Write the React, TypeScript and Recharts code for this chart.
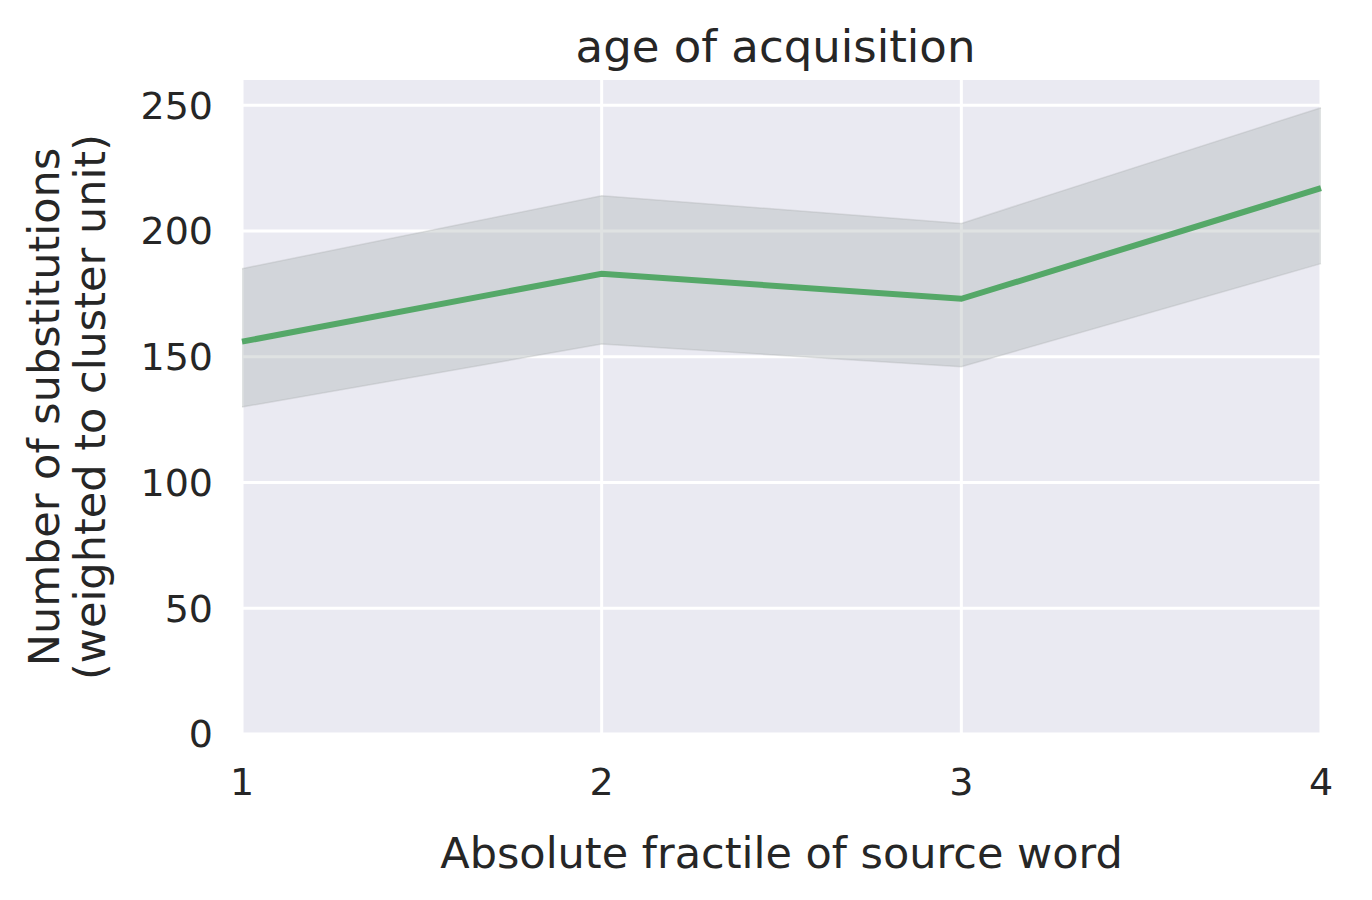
import React from 'react';
import {
  ComposedChart,
  Area,
  Line,
  XAxis,
  YAxis,
  CartesianGrid,
} from 'recharts';

// fractile buckets of the source word
const fractiles = [1, 2, 3, 4];
// mean number of substitutions
const meanValues = [156, 183, 173, 217];
// confidence band
const lowerValues = [130, 155, 146, 187];
const upperValues = [185, 214, 203, 249];

const yTicks = [0, 50, 100, 150, 200, 250];

const data = fractiles.map((f, i) => ({
  fractile: f,
  mean: meanValues[i],
  band: [lowerValues[i], upperValues[i]],
}));

const FONT = '"DejaVu Sans", sans-serif';
const TEXT = '#262626';

const YLabel = (props: any) => {
  const vb = props.viewBox || { x: 0, y: 0, width: 0, height: 0 };
  const cy = vb.y + vb.height / 2;
  return (
    <g>
      <text
        x={59}
        y={cy}
        transform={`rotate(-90, 59, ${cy})`}
        textAnchor="middle"
        fill={TEXT}
        fontSize={43}
        fontFamily={FONT}
      >
        Number of substitutions
      </text>
      <text
        x={105}
        y={cy}
        transform={`rotate(-90, 105, ${cy})`}
        textAnchor="middle"
        fill={TEXT}
        fontSize={43}
        fontFamily={FONT}
      >
        (weighted to cluster unit)
      </text>
    </g>
  );
};

const XLabel = (props: any) => {
  const vb = props.viewBox || { x: 0, y: 0, width: 0, height: 0 };
  return (
    <text
      x={vb.x + vb.width / 2}
      y={vb.y + 134}
      textAnchor="middle"
      fill={TEXT}
      fontSize={43}
      fontFamily={FONT}
    >
      Absolute fractile of source word
    </text>
  );
};

export default function App() {
  return (
    <div style={{ position: 'absolute', left: 0, top: 0, width: 1372, height: 900, background: '#fff' }}>
      <div
        style={{
          position: 'absolute',
          left: 236,
          width: 1079,
          top: 20,
          textAlign: 'center',
          fontFamily: FONT,
          fontSize: 45,
          color: TEXT,
          lineHeight: '54px',
        }}
      >
        age of acquisition
      </div>
      <ComposedChart
        width={1372}
        height={900}
        data={data}
        margin={{ top: 80, right: 51, bottom: 0, left: 0 }}
      >
        <CartesianGrid
          fill="#EAEAF2"
          fillOpacity={1}
          stroke="#ffffff"
          strokeWidth={3}
          horizontalValues={yTicks}
          verticalValues={fractiles}
        />
        <XAxis
          dataKey="fractile"
          type="number"
          domain={[1, 4]}
          ticks={fractiles}
          height={166}
          axisLine={false}
          tickLine={false}
          tickSize={0}
          tickMargin={34}
          tick={{ fill: TEXT, fontSize: 38, fontFamily: FONT }}
          label={{ content: XLabel }}
        />
        <YAxis
          type="number"
          domain={[0, 260]}
          ticks={yTicks}
          width={242}
          axisLine={false}
          tickLine={false}
          tickSize={0}
          tickMargin={29}
          tick={{ fill: TEXT, fontSize: 38, fontFamily: FONT }}
          label={{ content: YLabel }}
        />
        <Area
          dataKey="band"
          type="linear"
          fill="#AEB6B6"
          fillOpacity={0.4}
          stroke="#9aa0a0"
          strokeOpacity={0.25}
          strokeWidth={1.5}
          isAnimationActive={false}
          activeDot={false}
          dot={false}
        />
        <Line
          dataKey="mean"
          type="linear"
          stroke="#55A868"
          strokeWidth={6}
          dot={false}
          activeDot={false}
          isAnimationActive={false}
        />
      </ComposedChart>
    </div>
  );
}
